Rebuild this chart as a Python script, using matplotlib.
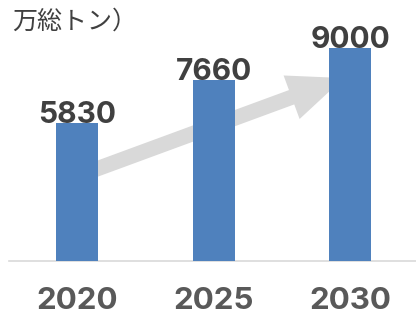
import matplotlib
matplotlib.use("Agg")
import matplotlib.pyplot as plt
from matplotlib.patches import FancyArrowPatch

plt.rcParams['font.family'] = ['Inter', 'Noto Sans CJK JP', 'DejaVu Sans']

# data
years = ["2020", "2025", "2030"]
tonnage = [5830, 7660, 9000]
unit_label = "万総トン）"

# trend arrow (data coords, drawn behind the bars)
arrow_start = (0.0, 3580)
arrow_end = (1.97, 7770)

bar_color = '#4F81BD'
arrow_color = '#D9D9D9'

fig = plt.figure(figsize=(4.16, 3.15), dpi=100)
ax = fig.add_axes([9 / 416, (315 - 260.7) / 315, 1 - 9 / 416, 260.7 / 315])

x = list(range(len(years)))
ax.bar(x, tonnage, width=0.307, color=bar_color, zorder=3)

arrow = FancyArrowPatch(arrow_start, arrow_end,
                        arrowstyle='simple,head_length=40,head_width=33.4,tail_width=11',
                        mutation_scale=1, color=arrow_color, lw=0, zorder=2)
ax.add_patch(arrow)

# value labels
for xi, v in zip(x, tonnage):
    ax.text(xi, v, str(v), ha='center', va='baseline', fontsize=21.5,
            fontweight='bold', color='#404040', zorder=4)

ax.set_xlim(-0.5, 2.48)
ax.set_ylim(0, 11033)
ax.set_xticks(x)
ax.set_xticklabels(years, fontsize=22.5, fontweight='bold', color='#595959')
ax.tick_params(axis='x', length=0, pad=19)
ax.set_yticks([])

for s in ['top', 'right', 'left']:
    ax.spines[s].set_visible(False)
ax.spines['bottom'].set_color('#D9D9D9')
ax.spines['bottom'].set_linewidth(1.2)

fig.text(12 / 416, 1 - 22 / 315, unit_label, fontsize=18, color='#404040',
         family=['Noto Sans CJK JP', 'DejaVu Sans'], va='center', ha='left')

fig.savefig('out.png', dpi=100)
